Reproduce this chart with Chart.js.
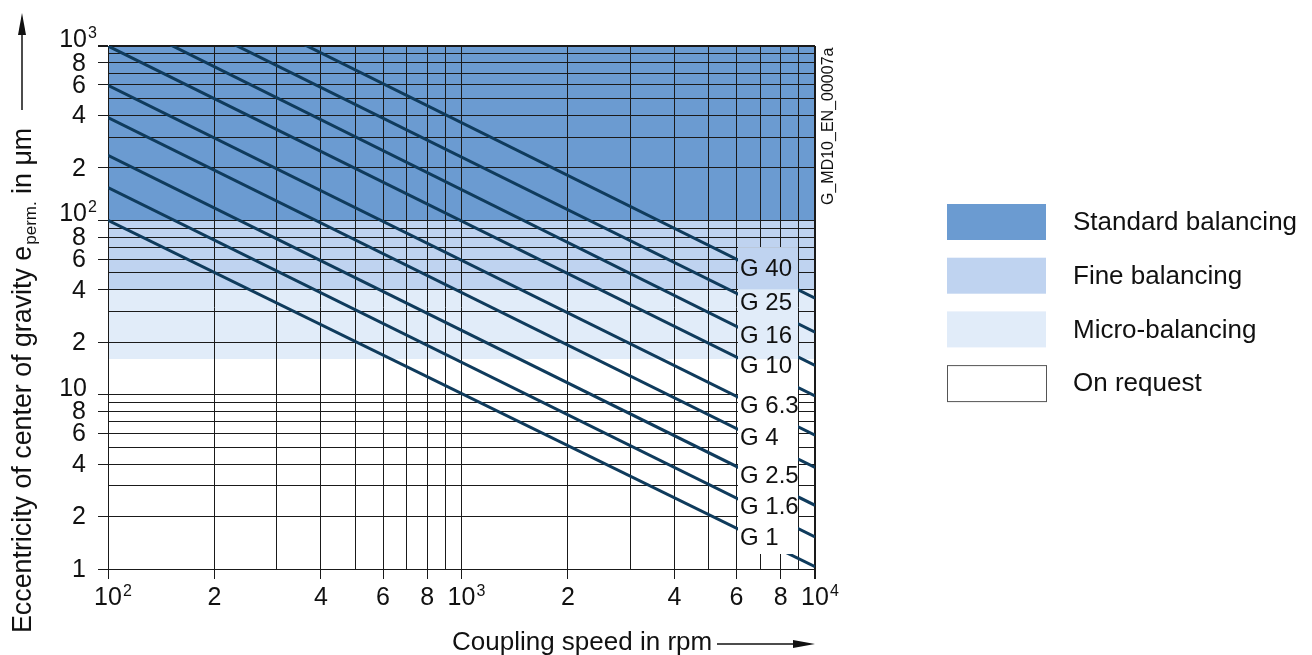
<!DOCTYPE html>
<html>
<head>
<meta charset="utf-8">
<script src="https://cdn.jsdelivr.net/npm/chart.js@4/dist/chart.umd.min.js"></script>
<style>
body { margin: 0; background: #fff; }
canvas { display: block; }
</style>
</head>
<body>
<canvas id="balance-chart" width="1312" height="655"></canvas>
<script>
// balance quality grades, eccentricity read at 100 rpm and at 10000 rpm
const grades = ['G 1', 'G 1.6', 'G 2.5', 'G 4', 'G 6.3', 'G 10', 'G 16', 'G 25', 'G 40'];
const speed_start = 100;
const speed_end = 10000;
const ecc_at_start = [100, 154, 236, 388, 595, 1000, 1530, 2330, 3690];
const ecc_at_end = [1.03, 1.53, 2.32, 3.82, 5.85, 9.85, 14.7, 22.8, 35.8];

// balancing zones (eccentricity ranges in um)
const zone_names = ['Standard balancing', 'Fine balancing', 'Micro-balancing', 'On request'];
const zone_low = [100, 40, 16, 1];
const zone_high = [1000, 100, 40, 16];
const zone_colors = ['#6b9bd1', '#bfd3f0', '#e1ecf9', '#ffffff'];

// grid and tick labels
const x_grid = [100, 200, 300, 400, 500, 600, 700, 800, 900, 1000, 2000, 3000, 4000, 5000, 6000, 7000, 8000, 9000, 10000];
const y_grid = [1, 2, 3, 4, 5, 6, 7, 8, 9, 10, 20, 30, 40, 50, 60, 70, 80, 90, 100, 200, 300, 400, 500, 600, 700, 800, 900, 1000];
const x_tick_values = [100, 200, 400, 600, 800, 1000, 2000, 4000, 6000, 8000, 10000];
const x_tick_labels = ['10^2', '2', '4', '6', '8', '10^3', '2', '4', '6', '8', '10^4'];
const y_tick_values = [1, 2, 4, 6, 8, 10, 20, 40, 60, 80, 100, 200, 400, 600, 800, 1000];
const y_tick_labels = ['1', '2', '4', '6', '8', '10', '2', '4', '6', '8', '10^2', '2', '4', '6', '8', '10^3'];

// label column (between 6000 and 9000 rpm)
const label_col = { from: 6000, to: 9000, top: 70, bottom: 1.22 };

const FONT = '"Liberation Sans", Arial, sans-serif';
const LINE_COLOR = '#0f3b5c';

const datasets = grades.map((g, i) => ({
    label: g,
    data: [{ x: speed_start, y: ecc_at_start[i] }, { x: speed_end, y: ecc_at_end[i] }],
    borderColor: LINE_COLOR,
    borderWidth: 3,
    pointRadius: 0,
    showLine: true,
    clip: 0
}));

const zones_plugin = {
    id: 'zones',
    beforeDraw(chart) {
        const { ctx, scales: { x, y } } = chart;
        ctx.save();
        zone_names.forEach((n, i) => {
            const top = y.getPixelForValue(zone_high[i]);
            const bot = y.getPixelForValue(zone_low[i]);
            ctx.fillStyle = zone_colors[i];
            ctx.fillRect(x.left, top, x.right - x.left, bot - top);
        });
        ctx.restore();
    }
};

const labels_plugin = {
    id: 'gradeLabels',
    afterDatasetsDraw(chart) {
        const { ctx, scales: { x, y } } = chart;
        const x0 = Math.round(x.getPixelForValue(label_col.from)) + 1;
        const x1 = Math.round(x.getPixelForValue(label_col.to)) - 1;
        const y0 = y.getPixelForValue(label_col.top);
        const y1 = y.getPixelForValue(label_col.bottom);
        ctx.save();
        ctx.fillStyle = '#fff';
        ctx.fillRect(x0, y0, x1 - x0, y1 - y0);
        zone_names.forEach((n, i) => {
            const top = Math.max(y0, y.getPixelForValue(zone_high[i]));
            const bot = Math.min(y1, y.getPixelForValue(zone_low[i]));
            if (bot > top) {
                ctx.fillStyle = zone_colors[i];
                ctx.fillRect(x0, top, x1 - x0, bot - top);
            }
        });
        ctx.font = '24px ' + FONT;
        ctx.fillStyle = '#111';
        ctx.textAlign = 'left';
        ctx.textBaseline = 'middle';
        grades.forEach((g, i) => {
            const pts = chart.getDatasetMeta(i).data;
            const p0 = pts[0], p1 = pts[1];
            const ly = p0.y + (p1.y - p0.y) * (x0 - p0.x) / (p1.x - p0.x);
            ctx.fillText(g, x0 + 2, ly + 9);
        });
        ctx.restore();
    }
};

function drawPow(ctx, label, px, py, align, base_font, sup_font, sup_dy) {
    const parts = label.split('^');
    ctx.font = base_font;
    const w = ctx.measureText(parts[0]).width;
    let left;
    if (align === 'center') left = px - w / 2;
    else left = px - w;
    ctx.textAlign = 'left';
    ctx.fillText(parts[0], left, py);
    if (parts.length > 1) {
        ctx.font = sup_font;
        ctx.fillText(parts[1], left + w + 1, py + sup_dy);
    }
}

const decor_plugin = {
    id: 'decor',
    afterDraw(chart) {
        const { ctx, scales: { x, y } } = chart;
        ctx.save();
        ctx.fillStyle = '#111';
        ctx.strokeStyle = '#111';

        // x tick labels
        ctx.textBaseline = 'alphabetic';
        x_tick_values.forEach((v, i) => {
            const px = x.getPixelForValue(v);
            drawPow(ctx, x_tick_labels[i], px, 605, 'center', '25px ' + FONT, '16px ' + FONT, -9);
        });

        // y tick labels
        y_tick_values.forEach((v, i) => {
            const py = y.getPixelForValue(v);
            const lab = y_tick_labels[i];
            if (lab.startsWith('10')) {
                ctx.textBaseline = 'alphabetic';
                drawPow(ctx, lab, 87, py + 1, 'right', '25px ' + FONT, '16px ' + FONT, -9);
            } else {
                ctx.textBaseline = 'middle';
                drawPow(ctx, lab, 86, py + 1, 'right', '25px ' + FONT, '16px ' + FONT, 0);
            }
        });

        // x axis title with arrow
        ctx.textBaseline = 'alphabetic';
        ctx.textAlign = 'left';
        ctx.font = '26px ' + FONT;
        ctx.fillText('Coupling speed in rpm', 452, 650);
        ctx.lineWidth = 1.5;
        ctx.beginPath();
        ctx.moveTo(717, 644);
        ctx.lineTo(800, 644);
        ctx.stroke();
        ctx.beginPath();
        ctx.moveTo(815, 644);
        ctx.lineTo(793, 640);
        ctx.lineTo(793, 648);
        ctx.closePath();
        ctx.fill();

        // y axis title with subscript, rotated
        ctx.save();
        ctx.translate(31, 633);
        ctx.rotate(-Math.PI / 2);
        ctx.font = '26.8px ' + FONT;
        const t1 = 'Eccentricity of center of gravity e';
        ctx.fillText(t1, 0, 0);
        let cx = ctx.measureText(t1).width;
        ctx.font = '17px ' + FONT;
        ctx.fillText('perm.', cx + 1, 5);
        cx += ctx.measureText('perm.').width + 1;
        ctx.font = '26.8px ' + FONT;
        ctx.fillText(' in \u03bcm', cx, 0);
        ctx.restore();
        ctx.beginPath();
        ctx.moveTo(22, 110);
        ctx.lineTo(22, 30);
        ctx.stroke();
        ctx.beginPath();
        ctx.moveTo(22, 13);
        ctx.lineTo(18, 35);
        ctx.lineTo(26, 35);
        ctx.closePath();
        ctx.fill();

        // drawing id
        ctx.save();
        ctx.translate(829, 205);
        ctx.rotate(-Math.PI / 2);
        ctx.font = '16px ' + FONT;
        ctx.textBaseline = 'middle';
        ctx.fillText('G_MD10_EN_00007a', 0, 0);
        ctx.restore();

        // legend
        ctx.font = '26px ' + FONT;
        ctx.textBaseline = 'middle';
        zone_names.forEach((n, i) => {
            const top = 204 + i * 53.7;
            ctx.fillStyle = zone_colors[i];
            ctx.fillRect(947, top, 99, 36);
            if (zone_colors[i] === '#ffffff') {
                ctx.strokeStyle = '#555';
                ctx.lineWidth = 1;
                ctx.strokeRect(947.5, top + 0.5, 99, 36);
            }
            ctx.fillStyle = '#111';
            ctx.fillText(n, 1073, top + 19);
        });
        ctx.restore();
    }
};

const config = {
    type: 'scatter',
    data: { datasets: datasets },
    options: {
        responsive: false,
        animation: false,
        layout: { padding: { top: 46, right: 497, bottom: 0, left: 0 } },
        plugins: {
            legend: { display: false },
            tooltip: { enabled: false }
        },
        scales: {
            x: {
                type: 'logarithmic',
                min: 100,
                max: 10000,
                afterBuildTicks: s => { s.ticks = x_grid.map(v => ({ value: v })); },
                afterFit: s => { s.height = 86; },
                ticks: { display: false },
                grid: {
                    color: '#1a1a1a',
                    lineWidth: c => (c.tick && c.tick.value === 10000) ? 2 : 1,
                    tickLength: 10,
                    tickColor: c => (c.tick && x_tick_values.includes(c.tick.value)) ? '#1a1a1a' : 'rgba(0,0,0,0)'
                },
                border: { display: true, color: '#1a1a1a', width: 1 }
            },
            y: {
                type: 'logarithmic',
                min: 1,
                max: 1000,
                afterBuildTicks: s => { s.ticks = y_grid.map(v => ({ value: v })); },
                afterFit: s => { s.width = 108; },
                ticks: { display: false },
                grid: {
                    color: '#1a1a1a',
                    lineWidth: c => (c.tick && c.tick.value === 1000) ? 2 : 1,
                    tickLength: 10,
                    tickColor: c => (c.tick && y_tick_values.includes(c.tick.value)) ? '#1a1a1a' : 'rgba(0,0,0,0)'
                },
                border: { display: true, color: '#1a1a1a', width: 1 }
            }
        }
    },
    plugins: [zones_plugin, labels_plugin, decor_plugin]
};

const balance_ctx = document.getElementById('balance-chart').getContext('2d');
const balance_chart = new Chart(balance_ctx, config);
</script>
</body>
</html>
